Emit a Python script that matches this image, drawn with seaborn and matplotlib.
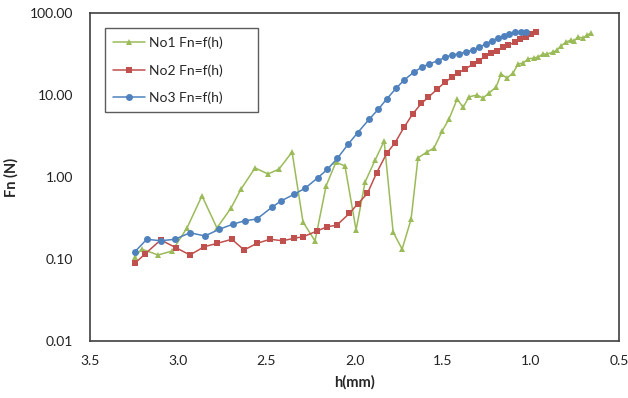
import matplotlib
matplotlib.use('Agg')
import matplotlib.pyplot as plt
from matplotlib.ticker import FixedLocator, FormatStrFormatter, NullLocator
import seaborn as sns

# ===== DATA =====
h_no1 = [3.245, 3.207, 3.114, 3.035, 2.950, 2.865, 2.780, 2.700, 2.644, 2.564,
         2.490, 2.428, 2.354, 2.292, 2.224, 2.161, 2.105, 2.054, 1.991, 1.940,
         1.883, 1.832, 1.781, 1.730, 1.679, 1.640, 1.589, 1.549, 1.503, 1.464,
         1.418, 1.384, 1.350, 1.305, 1.271, 1.237, 1.197, 1.169, 1.135, 1.101,
         1.072, 1.044, 1.016, 0.982, 0.959, 0.931, 0.908, 0.874, 0.851, 0.829,
         0.800, 0.772, 0.755, 0.732, 0.704, 0.681, 0.658]
fn_no1 = [0.106, 0.132, 0.112, 0.125, 0.239, 0.59, 0.239, 0.42, 0.71, 1.29,
          1.09, 1.25, 2.02, 0.283, 0.166, 0.78, 1.52, 1.36, 0.226, 0.87,
          1.61, 2.75, 0.213, 0.132, 0.307, 1.71, 2.02, 2.26, 3.64, 5.1,
          8.9, 7.1, 9.5, 10.0, 9.2, 10.6, 12.5, 18.0, 16.1, 18.5,
          23.9, 24.5, 27.5, 28.3, 29.1, 31.6, 31.6, 33.4, 35.4, 39.6,
          44.3, 46.9, 45.6, 51.0, 49.5, 53.9, 57.0]

h_no2 = [3.245, 3.188, 3.099, 3.012, 2.933, 2.853, 2.780, 2.696, 2.626, 2.554,
         2.479, 2.407, 2.343, 2.290, 2.214, 2.154, 2.101, 2.029, 1.982, 1.927,
         1.874, 1.817, 1.770, 1.719, 1.670, 1.621, 1.581, 1.533, 1.486, 1.448,
         1.411, 1.373, 1.329, 1.292, 1.259, 1.225, 1.193, 1.159, 1.127, 1.089,
         1.061, 1.027, 0.999, 0.970]
fn_no2 = [0.089, 0.115, 0.171, 0.137, 0.112, 0.141, 0.155, 0.174, 0.129, 0.155,
          0.174, 0.167, 0.179, 0.187, 0.219, 0.248, 0.258, 0.36, 0.47, 0.63,
          1.13, 1.95, 2.62, 4.04, 5.87, 7.9, 9.4, 11.7, 14.4, 16.4,
          18.7, 20.7, 23.7, 26.2, 29.9, 32.2, 34.4, 38.8, 40.7, 44.3,
          48.2, 51.7, 56.2, 59.5]

h_no3 = [3.245, 3.178, 3.099, 3.018, 2.933, 2.848, 2.768, 2.687, 2.621, 2.554,
         2.469, 2.417, 2.343, 2.280, 2.208, 2.154, 2.097, 2.035, 1.982, 1.917,
         1.865, 1.818, 1.764, 1.719, 1.662, 1.615, 1.575, 1.528, 1.486, 1.445,
         1.407, 1.367, 1.329, 1.292, 1.256, 1.222, 1.188, 1.152, 1.122, 1.089,
         1.057, 1.027]
fn_no3 = [0.123, 0.174, 0.167, 0.174, 0.209, 0.191, 0.230, 0.267, 0.293, 0.307,
          0.427, 0.510, 0.615, 0.73, 0.98, 1.24, 1.69, 2.53, 3.47, 5.06,
          6.7, 8.9, 12.1, 15.2, 19.1, 22.1, 23.9, 26.2, 28.8, 31.0,
          31.6, 33.7, 35.4, 38.2, 41.9, 45.9, 49.1, 52.8, 55.4, 58.2,
          58.2, 59.2]

series = [
    ('No1 Fn=f(h)', h_no1, fn_no1, '#9BBB59', '^'),
    ('No2 Fn=f(h)', h_no2, fn_no2, '#C0504D', 's'),
    ('No3 Fn=f(h)', h_no3, fn_no3, '#4F81BD', 'o'),
]
y_ticks = [0.01, 0.1, 1, 10, 100]
x_ticks = [3.5, 3.0, 2.5, 2.0, 1.5, 1.0, 0.5]

sns.set_style("white")
plt.rcParams['font.family'] = ['Lato', 'DejaVu Sans']

fig = plt.figure(figsize=(6.28, 3.98), dpi=100)
ax = fig.add_axes([0.1433, 0.1432, 0.8424, 0.8241])

for label, hx, fy, col, mk in series:
    sns.lineplot(x=hx, y=fy, ax=ax, color=col, marker=mk, markersize=5,
                 markeredgewidth=0, linewidth=1.1, label=label,
                 estimator=None, sort=False)

ax.set_yscale('log')
ax.set_ylim(0.01, 100)
ax.set_xlim(3.5, 0.5)
ax.yaxis.set_major_locator(FixedLocator(y_ticks))
ax.yaxis.set_minor_locator(NullLocator())
ax.yaxis.set_major_formatter(FormatStrFormatter('%.2f'))
ax.set_xticks(x_ticks)
ax.xaxis.set_major_formatter(FormatStrFormatter('%.1f'))
ax.tick_params(axis='both', length=0, labelsize=10, colors='#222222')
ax.tick_params(axis='y', pad=12)
ax.tick_params(axis='x', pad=10)

for sp in ax.spines.values():
    sp.set_color('#404040')
    sp.set_linewidth(1.2)

ax.set_xlabel('h(mm)', fontsize=10.5, fontweight='bold', labelpad=6)
ax.set_ylabel('Fn (N)', fontsize=10.5, fontweight='bold')
ax.yaxis.set_label_coords(-0.135, 0.5)

# legend box spans roughly x 105-258, y 28-116 px in the reference
leg = ax.legend(loc='upper left', bbox_to_anchor=(0.028, 0.686, 0.29, 0.268),
                mode='expand', fontsize=10, frameon=True, fancybox=False,
                edgecolor='#333333', handlelength=2.3, labelspacing=1.08,
                borderpad=0.6, handletextpad=0.3, borderaxespad=0)
leg.get_frame().set_linewidth(1.0)

fig.savefig('out.png', dpi=100)
